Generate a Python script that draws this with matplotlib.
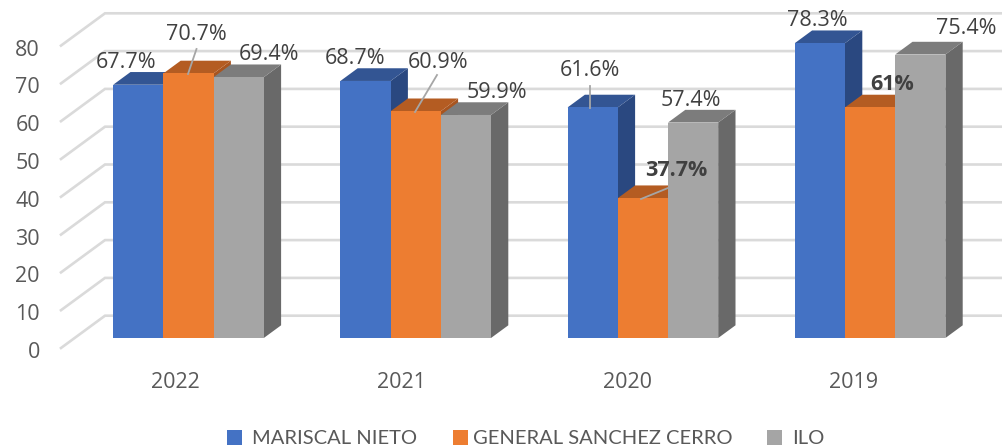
import matplotlib
matplotlib.use("Agg")
import matplotlib.pyplot as plt
from matplotlib.patches import Polygon, Rectangle

W, H = 1003, 446
years = ["2022", "2021", "2020", "2019"]
series_names = ["MARISCAL NIETO", "GENERAL SANCHEZ CERRO", "ILO"]
mariscal = [67, 68, 61, 78]
sanchez = [70, 60, 37, 61]
ilo = [69, 59, 57, 75]
mariscal_labels = ["67.7%", "68.7%", "61.6%", "78.3%"]
sanchez_labels = ["70.7%", "60.9%", "37.7%", "61%"]
ilo_labels = ["69.4%", "59.9%", "57.4%", "75.4%"]
y_ticks = [0, 10, 20, 30, 40, 50, 60, 70, 80]

# layout, in pixels of the picture
X0, XSTEP = 188.5, 227.2
Y0, YSCALE = 338.0, 3.78
BAR_PX = 50.2
DEPTH_X, DEPTH_Y = 17.3, 12.7

face = ["#4472C4", "#ED7D31", "#A5A5A5"]
top = ["#335593", "#B45C22", "#7C7C7C"]
side = ["#2A4880", "#A85520", "#696969"]
GRID = "#DADADA"
TICK = "#595959"
LABEL = "#404040"
LEADER = "#A6A6A6"
FONT = "Open Sans"
TEXT_SIZE = 15.5

fig = plt.figure(figsize=(W / 100, H / 100), dpi=100)
ax = fig.add_axes([0, 0, 1, 1])
ax.set_xlim((0 - X0) / XSTEP, (W - X0) / XSTEP)
ax.set_ylim((Y0 - H) / YSCALE, Y0 / YSCALE)
ax.axis("off")

dx = DEPTH_X / XSTEP
dy = DEPTH_Y / YSCALE
bw = BAR_PX / XSTEP


def P(px, py):
    return (px - X0) / XSTEP, (Y0 - py) / YSCALE


# gridlines: side wall, then back wall
for v in y_ticks:
    x1, y1 = P(61, 348)
    x2, y2 = P(105, 315.7)
    x3, _ = P(W, 0)
    ax.plot([x1, x2, x3], [y1 + v, y2 + v, y2 + v], color=GRID, lw=1.9,
            solid_joinstyle="miter", zorder=1)
    tx, ty = P(40, 352.5)
    ax.text(tx, ty + v, str(v), ha="right", va="center", color=TICK,
            fontsize=TEXT_SIZE, family=FONT, zorder=5)

# bars
all_vals = [mariscal, sanchez, ilo]
z = 2
for i in range(len(years)):
    for s, vals in enumerate(all_vals):
        v = vals[i]
        left = i + (s - 1.5) * bw
        right = left + bw
        ax.add_patch(Polygon([(right, 0), (right + dx, dy), (right + dx, v + dy), (right, v)],
                             closed=True, fc=side[s], ec="none", zorder=z))
        ax.add_patch(Polygon([(left, v), (left + dx, v + dy), (right + dx, v + dy), (right, v)],
                             closed=True, fc=top[s], ec="none", zorder=z))
        ax.add_patch(Polygon([(left, 0), (right, 0), (right, v), (left, v)],
                             closed=True, fc=face[s], ec="none", zorder=z + 0.5))
        z += 1

# category labels
cat_px = [175, 401, 628, 854]
for name, px in zip(years, cat_px):
    tx, ty = P(px, 382)
    ax.text(tx, ty, name, ha="center", va="center", color=TICK, fontsize=TEXT_SIZE, family=FONT)

# leader lines
leaders = [((196.5, 49), (188, 74)), ((437, 75), (415, 112)),
           ((590, 86), (590, 108)), ((668, 188), (641, 199))]
for a, b in leaders:
    xa, ya = P(*a)
    xb, yb = P(*b)
    ax.plot([xa, xb], [ya, yb], color=LEADER, lw=1.3, zorder=100)

# value labels
label_px = [
    [(126, 63), (355, 59), (590, 71), (817, 20)],
    [(196, 34), (438, 62), (676, 170), (892, 85)],
    [(268.5, 54), (497, 92), (691, 100), (966, 29)],
]
all_labels = [mariscal_labels, sanchez_labels, ilo_labels]
bold = {"37.7%", "61%"}
for labs, poss in zip(all_labels, label_px):
    for lab, pos in zip(labs, poss):
        tx, ty = P(*pos)
        ax.text(tx, ty, lab, ha="center", va="center", color=LABEL, fontsize=TEXT_SIZE, family=FONT,
                fontweight="bold" if lab in bold else "normal", zorder=200)

# legend
swatches = [227, 453, 767]
text_x = [252, 473, 792]
for s, name in enumerate(series_names):
    x, y = P(swatches[s], 445)
    ax.add_patch(Rectangle((x, y), 15 / XSTEP, 15 / YSCALE, fc=face[s], ec="none"))
    tx, ty = P(text_x[s], 438.5)
    ax.text(tx, ty, name, ha="left", va="center", color=TICK, fontsize=14.5, family="Lato")

fig.savefig("out.png", dpi=100)
